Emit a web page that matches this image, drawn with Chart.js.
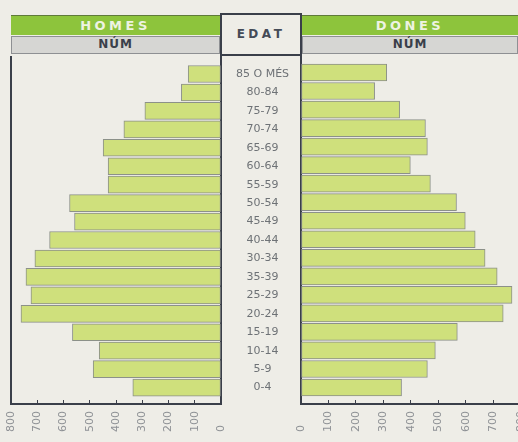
<!DOCTYPE html>
<html lang="ca">
<head>
  <meta charset="UTF-8" />
  <title>Piràmide de població</title>
  <script src="https://cdn.jsdelivr.net/npm/chart.js"></script>
  <style>
    html, body { margin: 0; padding: 0; }
    body { width: 518px; height: 442px; overflow: hidden; position: relative; background: #eeede7; font-family: "DejaVu Sans", sans-serif; }
    .head { position: absolute; box-sizing: border-box; text-align: center; font-weight: bold; }
    .green { background: #8dc43c; color: #eef3e2; font-size: 13px; letter-spacing: 3.5px; line-height: 19px; height: 20px; top: 15px; border-top: 1px solid #5f7a3a; }
    .grey { background: #d6d6d3; color: #3a3f4a; font-size: 12px; letter-spacing: 1px; line-height: 15px; height: 18px; top: 36px; border: 1px solid #8e9093; }
    #edat { position: absolute; left: 220px; top: 13px; width: 82px; height: 43px; box-sizing: border-box;
            border: 2px solid #3a3f4a; text-align: center;
            font-weight: bold; font-size: 12px; letter-spacing: 3.5px; line-height: 38px; color: #444b57; }
    canvas { position: absolute; }
  </style>
</head>
<body>
  <div class="head green" style="left:11px; width:209px;">HOMES</div>
  <div class="head grey" style="left:11px; width:209px;">NÚM</div>
  <div id="edat">EDAT</div>
  <div class="head green" style="left:302px; width:216px;">DONES</div>
  <div class="head grey" style="left:302px; width:216px;">NÚM</div>
  <canvas id="leftChart" width="310" height="407" style="left:-9px; top:35px;"></canvas>
  <canvas id="rightChart" width="269" height="407" style="left:276px; top:35px;"></canvas>
  <script>
    const ageLabels = ['85 O MÉS', '80-84', '75-79', '70-74', '65-69', '60-64', '55-59', '50-54', '45-49',
                       '40-44', '30-34', '35-39', '25-29', '20-24', '15-19', '10-14', '5-9', '0-4'];
    const homes = [125, 151, 290, 370, 449, 430, 430, 577, 558, 653, 709, 743, 724, 762, 566, 464, 487, 336];
    const dones = [312, 268, 359, 453, 460, 398, 471, 566, 598, 634, 670, 714, 768, 736, 569, 489, 460, 366];
    const axisMax = 800;
    const axisStep = 100;

    const frame = '#3a3f4a';
    const barFill = '#cfe07c';
    const barEdge = '#8c9189';

    function points(values) {
      return values.map((v, i) => ({ x: v, y: i }));
    }

    function yScale(extra) {
      return Object.assign({
        type: 'linear',
        reverse: true,
        offset: false,
        min: -0.944,
        max: 17.89,
        grid: { display: false, drawTicks: false, offset: false },
        border: { display: true, color: frame, width: 2 }
      }, extra);
    }

    function xScale(reverse) {
      return {
        type: 'linear',
        reverse: reverse,
        min: 0,
        max: axisMax,
        afterFit: s => { s.height = 38; },
        // negative tick length puts the little marks inside the plot, as in the original
        grid: { drawOnChartArea: false, drawTicks: true, tickLength: -4, color: frame },
        border: { display: true, color: frame, width: 2 },
        ticks: {
          stepSize: axisStep,
          minRotation: 90,
          maxRotation: 90,
          autoSkip: false,
          padding: 11,
          color: '#8f9296',
          font: { family: 'DejaVu Sans', size: 11 },
          callback: v => String(v).padEnd(3, '\u2007')
        }
      };
    }

    function dataset(values) {
      return {
        data: points(values),
        backgroundColor: barFill,
        borderColor: barEdge,
        borderWidth: 1,
        borderSkipped: false,
        barThickness: 17
      };
    }

    const common = {
      responsive: false,
      animation: false,
      indexAxis: 'y',
      plugins: { legend: { display: false }, tooltip: { enabled: false } }
    };

    new Chart(document.getElementById('leftChart'), {
      type: 'bar',
      data: { datasets: [dataset(homes)] },
      options: Object.assign({}, common, {
        layout: { padding: { left: 20, right: 0, top: 20, bottom: 0 } },
        scales: {
          x: xScale(true),
          y: yScale({
            position: 'right',
            afterFit: s => { s.width = 80; },
            afterBuildTicks: s => { s.ticks = ageLabels.map((_, i) => ({ value: i })); },
            ticks: {
              autoSkip: false,
              crossAlign: 'center',
              padding: 15,
              color: '#6e7276',
              font: { family: 'DejaVu Sans', size: 11 },
              callback: v => ageLabels[v]
            }
          }),
          yFrame: yScale({
            position: 'left',
            afterFit: s => { s.width = 0; },
            ticks: { display: false }
          })
        }
      })
    });

    new Chart(document.getElementById('rightChart'), {
      type: 'bar',
      data: { datasets: [dataset(dones)] },
      options: Object.assign({}, common, {
        layout: { padding: { left: 20, right: 14, top: 20, bottom: 0 } },
        scales: {
          x: xScale(false),
          y: yScale({
            position: 'left',
            afterFit: s => { s.width = 5; },
            ticks: { display: false }
          })
        }
      })
    });
  </script>
</body>
</html>
